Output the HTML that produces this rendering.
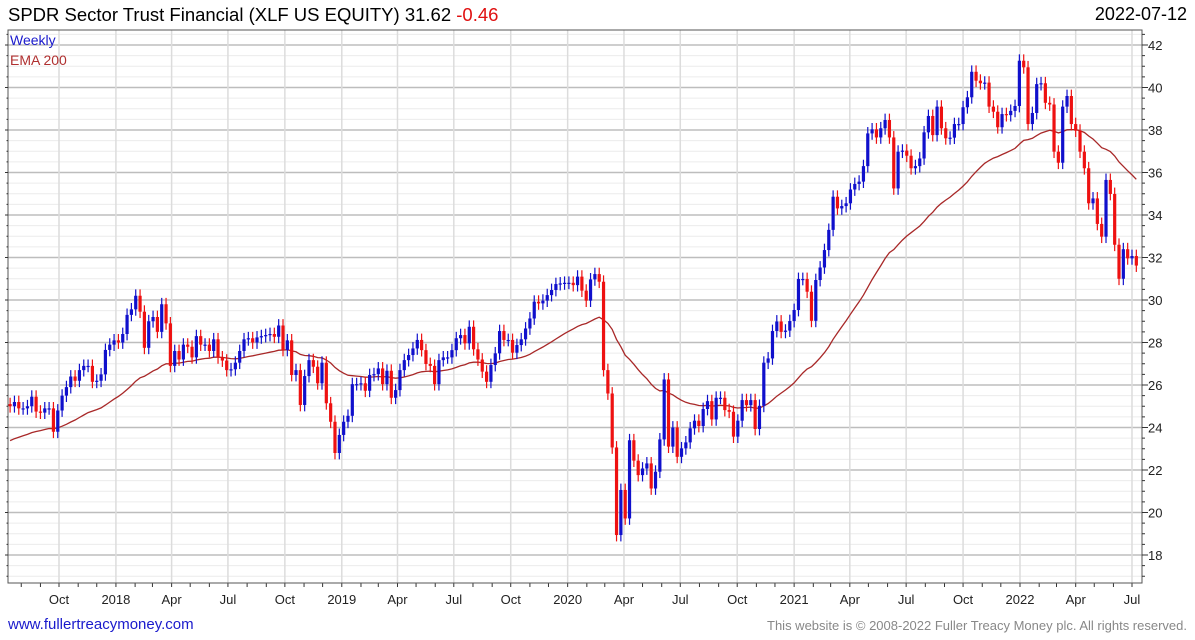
<!DOCTYPE html>
<html><head><meta charset="utf-8">
<style>
body{margin:0;background:#fff;font-family:"Liberation Sans",sans-serif;}
#wrap{position:relative;width:1195px;height:640px;overflow:hidden;}
.t{position:absolute;white-space:nowrap;}
</style></head>
<body>
<div id="wrap">
<div class="t" style="left:8px;top:4px;font-size:18.5px;">SPDR Sector Trust Financial (XLF US EQUITY) 31.62 <span style="color:#e01010">-0.46</span></div>
<div class="t" style="right:8px;top:4px;font-size:18px;">2022-07-12</div>
<svg id="chart" width="1195" height="640" style="position:absolute;left:0;top:0"></svg>
<div class="t" style="left:10px;top:32px;font-size:14px;color:#1a1acc;">Weekly</div>
<div class="t" style="left:10px;top:52px;font-size:14px;color:#b03030;">EMA 200</div>
<div class="t" style="left:8px;top:616px;font-size:15px;color:#1a1acc;">www.fullertreacymoney.com</div>
<div class="t" style="right:8px;top:618px;font-size:13px;color:#888;">This website is © 2008-2022 Fuller Treacy Money plc. All rights reserved.</div>
</div>
<script>
const closes=[25.0,25.2,24.9,
24.9,25.0,25.45,24.75,24.7,24.9,24.9,23.8,24.8,25.5,25.9,26.4,26.2,26.7,26.9,26.9,26.15,26.2,26.5,27.65,27.9,28.1,28.0,28.4,29.3,29.56,30.2,29.45,27.75,29.0,29.2,28.5,29.8,28.9,26.9,27.6,27.2,27.9,27.8,27.3,28.3,27.9,27.9,27.6,28.15,27.3,27.15,26.7,26.74,27.05,27.6,28.15,28.2,28.0,28.24,28.3,28.35,28.4,28.27,28.8,27.65,28.1,26.47,26.7,25.06,
26.42,27.17,26.86,26.08,27.05,25.14,24.27,22.8,23.65,24.27,
24.55,26.04,26.04,26.08,25.73,26.47,26.51,26.78,26.04,26.67,
25.4,25.76,26.7,27.17,27.41,27.72,28.12,27.64,26.99,26.9,
26.04,27.17,27.3,27.3,27.64,28.2,28.35,27.96,28.74,27.68,
27.2,26.63,26.15,26.94,27.49,28.54,28.12,28.12,27.52,27.88,
28.15,28.66,29.13,29.92,29.84,29.97,30.23,30.47,30.75,30.78,
30.81,30.81,30.7,31.1,30.44,29.97,30.97,31.22,30.86,26.7,25.6,
23.06,18.94,21.06,19.72,23.4,22.44,21.76,22.07,22.31,21.13,
21.92,23.44,26.26,23.1,24.0,22.62,23.02,23.3,23.96,24.32,
24.07,24.87,25.24,24.38,25.4,25.4,24.82,24.74,23.57,24.32,
25.29,25.05,25.29,23.93,25.02,27.05,27.25,28.54,28.99,28.5,
28.56,29.01,29.53,30.99,30.99,30.39,29.02,30.94,31.53,32.35,33.3,
34.86,34.31,34.42,34.55,35.2,35.46,35.57,36.3,37.84,38.03,
37.65,38.08,38.47,37.65,35.25,36.98,37.03,36.79,36.2,36.3,
36.66,37.89,38.66,37.76,39.1,38.08,37.61,37.64,38.28,38.28,
39.07,39.54,40.74,40.32,40.2,40.23,39.1,38.86,38.13,38.75,
38.7,38.9,39.13,41.26,40.95,38.28,38.8,40.16,40.2,39.28,
39.2,36.98,36.46,39.1,39.6,38.28,37.97,36.98,36.2,34.55,
34.78,33.58,32.98,35.65,34.99,32.6,31.0,32.39,31.96,32.07,31.62];
const firstOpen=25.1;
const emaStart=23.3;
const emaPeriod=40;
const wick=0.3;
const yTicks=[18,20,22,24,26,28,30,32,34,36,38,40,42];
const xLabels=["Oct","2018","Apr","Jul","Oct","2019","Apr","Jul","Oct","2020","Apr","Jul","Oct","2021","Apr","Jul","Oct","2022","Apr","Jul"];
const xLabelDates=["2017-10-01","2018-01-01","2018-04-01","2018-07-01","2018-10-01","2019-01-01","2019-04-01","2019-07-01","2019-10-01","2020-01-01","2020-04-01","2020-07-01","2020-10-01","2021-01-01","2021-04-01","2021-07-01","2021-10-01","2022-01-01","2022-04-01","2022-07-01"];
const lastDate="2022-07-08";

const L=8,R=1142,T=30,B=583;
const NS="http://www.w3.org/2000/svg";
const svg=document.getElementById('chart');
const DAY=86400000, origin=Date.parse("2017-10-01"), pxPerDay=0.6188;
function xDate(ms){return 59+(ms-origin)/DAY*pxPerDay;}
function y(v){return 45+(42-v)*21.25;}
function mk(tag,attrs){const e=document.createElementNS(NS,tag);for(const k in attrs)e.setAttribute(k,attrs[k]);svg.appendChild(e);return e;}
for(let v=17;v<=42.6;v+=0.5){
  const g=mk('line',{x1:L,x2:R,y1:y(v),y2:y(v),stroke:(v%2===0)?'#bdbdbd':'#ececec','stroke-width':(v%2===0)?1.5:1});
  
  
}
xLabels.forEach((lab,i)=>{
  const x=xDate(Date.parse(xLabelDates[i]));
  const g=mk('line',{x1:x,x2:x,y1:T,y2:B,stroke:'#dcdcdc','stroke-width':1.5});
  
  
  const t=mk('text',{x:x,y:604,'text-anchor':'middle','font-size':13,'font-family':'Liberation Sans, sans-serif',fill:'#222'});
  t.textContent=lab;
  
  
});
for(let yr=2017;yr<=2022;yr++)for(let m=0;m<12;m++){
  const x=xDate(Date.UTC(yr,m,1));
  if(x<L||x>R)continue;
  const tk=mk('line',{x1:x,x2:x,y1:B,y2:B+4,stroke:'#333'});
  
  
}
const ax=mk('rect',{x:L,y:T,width:R-L,height:B-T,fill:'none',stroke:'#555','stroke-width':1});


yTicks.forEach(v=>{
  const t=mk('text',{x:1148,y:y(v)+5,'font-size':13,'font-family':'Liberation Sans, sans-serif',fill:'#222'});
  t.textContent=v;
  
  
});
for(let v=17;v<=42.6;v+=0.5){
  const len=(v%2===0)?6:3;
  const a=mk('line',{x1:R,x2:R+len,y1:y(v),y2:y(v),stroke:'#333'});
  
  
  const b=mk('line',{x1:L-len/2,x2:L,y1:y(v),y2:y(v),stroke:'#333'});
  
  
}
const n=closes.length, lastMs=Date.parse(lastDate);
const xs=closes.map((c,i)=>xDate(lastMs-(n-1-i)*7*DAY));
let ema=emaStart; const k=2/(emaPeriod+1); let pts=[];
closes.forEach((c,i)=>{ema=ema+k*(c-ema);pts.push(xs[i].toFixed(1)+','+y(ema).toFixed(1));});
const pl=mk('polyline',{points:pts.join(' '),fill:'none',stroke:'#a82828','stroke-width':1.3});


closes.forEach((c,i)=>{
  const o=i===0?firstOpen:closes[i-1];
  const up=c>=o, col=up?'#1010cc':'#ee1111';
  const hi=Math.max(o,c)+wick, lo=Math.min(o,c)-wick;
  const w=mk('line',{x1:xs[i],x2:xs[i],y1:y(hi),y2:y(lo),stroke:col,'stroke-width':1.2});
  
  
  const top=y(Math.max(o,c)), h=Math.max(1.2,y(Math.min(o,c))-top);
  const r=mk('rect',{x:xs[i]-1.6,y:top,width:3.2,height:h,fill:col});
  
  
});
</script>
</body></html>
